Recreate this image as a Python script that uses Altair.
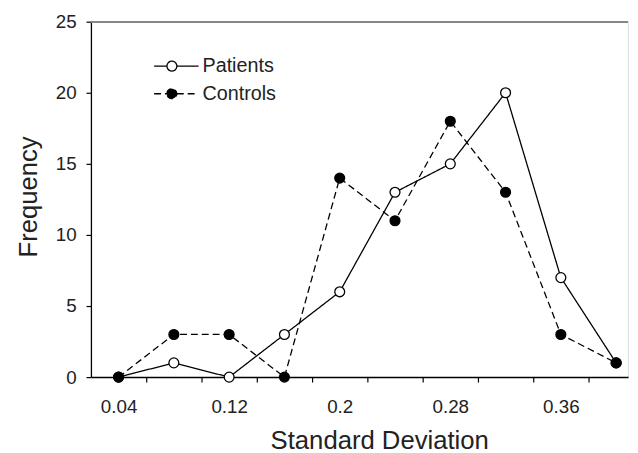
import altair as alt
import pandas as pd

# ---- data ----
sd_values = [0.04, 0.08, 0.12, 0.16, 0.20, 0.24, 0.28, 0.32, 0.36, 0.40]
patients = [0, 1, 0, 3, 6, 13, 15, 20, 7, 1]
controls = [0, 3, 3, 0, 14, 11, 18, 13, 3, 1]
series_names = ["Patients", "Controls"]
x_axis_values = [0.04, 0.06, 0.08, 0.10, 0.12, 0.14, 0.16, 0.18, 0.20, 0.22,
                 0.24, 0.26, 0.28, 0.30, 0.32, 0.34, 0.36, 0.38, 0.40]
y_axis_values = [0, 5, 10, 15, 20, 25]

df = pd.DataFrame({
    "sd": sd_values + sd_values,
    "freq": patients + controls,
    "series": [series_names[0]] * len(sd_values) + [series_names[1]] * len(sd_values),
})

FONT = "Liberation Sans"
TXT = "#222222"

# legend symbol: short line with a circle on it
LEG_PATH = ("M-1.8,0L-0.5,0M0.5,0L2.7,0"
            "M-0.5,0A0.5,0.5,0,1,1,0.5,0A0.5,0.5,0,1,1,-0.5,0Z")

def make_legend():
    return alt.Legend(
        title=None, orient="none", legendX=71, legendY=34, padding=0,
        symbolType=LEG_PATH, symbolSize=400, symbolStrokeColor="black",
        symbolStrokeWidth=1.3, labelFontSize=20, labelFont=FONT,
        labelColor=TXT, labelOffset=20, rowPadding=7,
    )

x_enc = alt.X(
    "sd:Q",
    scale=alt.Scale(domain=[0.02, 0.4086], nice=False, zero=False),
    axis=alt.Axis(
        values=x_axis_values,
        title="Standard Deviation",
        titleFontSize=26, titleFont=FONT, titleColor=TXT, titleFontWeight="normal",
        titleX=292, titleY=72, titleBaseline="alphabetic", titleAlign="center",
        tickSize=5, tickColor="black", tickWidth=1.2,
        tickOpacity={"condition": {"test": "round(datum.value*100) % 4 != 2", "value": 0}, "value": 1},
        labelExpr="round(datum.value*100) % 8 == 4 ? toString(round(datum.value*100)/100) : ''",
        labelFontSize=19, labelFont=FONT, labelColor=TXT, labelPadding=16,
        labelOverlap=False, labelFlush=False,
        domainColor="black", domainWidth=1.5, grid=False,
    ),
)
y_enc = alt.Y(
    "freq:Q",
    scale=alt.Scale(domain=[0, 25], nice=False),
    axis=alt.Axis(
        values=y_axis_values,
        title="Frequency",
        titleFontSize=26, titleFont=FONT, titleColor=TXT, titleFontWeight="normal",
        titleX=-55, titleY=177, titleAngle=270, titleBaseline="alphabetic", titleAlign="center",
        tickSize=5, tickColor="black", tickWidth=1.2,
        labelFontSize=19, labelFont=FONT, labelColor=TXT, labelPadding=10,
        domainColor="black", domainWidth=1.3, grid=False,
    ),
)

top_rule = alt.Chart(df).mark_rule(color="#888888", strokeWidth=1).encode(
    y=alt.datum(25)
)

lines = alt.Chart(df).mark_line(color="black", strokeWidth=1.3).encode(
    x=x_enc,
    y=y_enc,
    strokeDash=alt.StrokeDash(
        "series:N",
        scale=alt.Scale(domain=series_names, range=[[1, 0], [7, 4]]),
        legend=make_legend(),
    ),
)

points = alt.Chart(df).mark_point(
    filled=True, shape="circle", size=100, stroke="black", strokeWidth=1.3, opacity=1
).encode(
    x=x_enc,
    y=y_enc,
    fill=alt.Fill(
        "series:N",
        scale=alt.Scale(domain=series_names, range=["white", "black"]),
        legend=make_legend(),
    ),
)

chart = alt.layer(top_rule, lines, points).properties(
    width=544,
    height=360,
    padding={"left": 84, "top": 11, "right": 2, "bottom": 74},
    autosize=alt.AutoSizeParams(type="none"),
    background="white",
).configure_view(stroke=None).configure(font=FONT)

chart.save("out.html", embed_options={"renderer": "svg", "actions": False})
